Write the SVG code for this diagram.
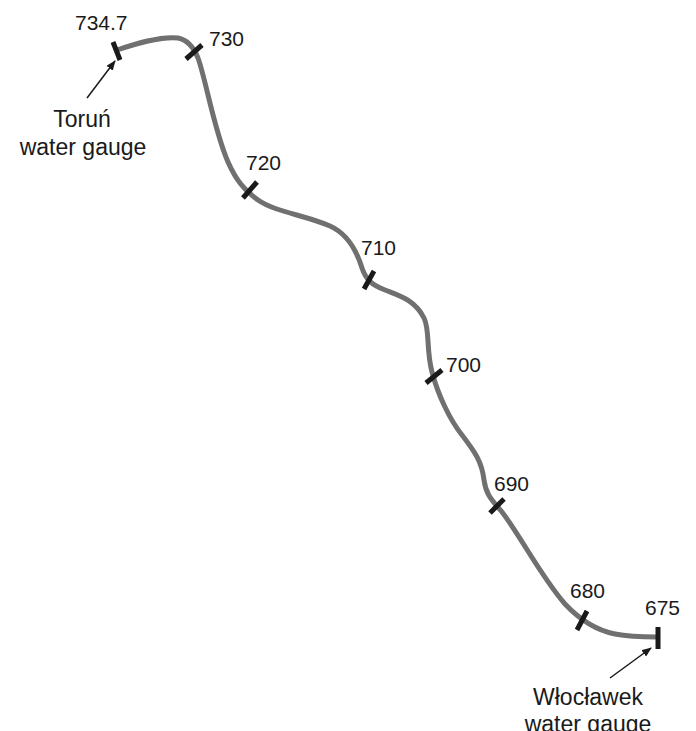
<svg xmlns="http://www.w3.org/2000/svg" width="696" height="731" viewBox="0 0 696 731">
<style>
.river{fill:none;stroke:#707070;stroke-width:5;stroke-linecap:round;stroke-linejoin:round}
.tick{stroke:#1a1a1a;stroke-width:5}
.num{font-family:"Liberation Sans",Arial,sans-serif;font-size:21px;fill:#1a1a1a}
.lbl{font-family:"Liberation Sans",Arial,sans-serif;font-size:23px;fill:#1a1a1a}
.ptr{stroke:#1a1a1a;stroke-width:1.5;fill:none}
</style>
<defs>
<marker id="ah" markerWidth="10" markerHeight="8" refX="9" refY="4" orient="auto" markerUnits="userSpaceOnUse">
<path d="M0,0 L10,4 L0,8 Z" fill="#1a1a1a"/>
</marker>
</defs>
<rect width="696" height="731" fill="#fff"/>
<g id="connectors">
<path class="river" d="M117,50 C135,44 160,36 178,38 C188,40 194,48 198,58 C206,80 214,130 228,162 C236,180 244,190 258,200 C275,212 305,215 330,226 C350,235 358,255 362,268 C366,280 372,285 385,290 C400,296 415,300 424,318 C430,330 426,350 432,372 C438,395 450,420 462,435 C475,452 482,462 484,480 C486,495 492,500 502,512 C520,535 540,575 565,604 C580,620 595,630 615,634 C630,637 645,637 657,637"/>
<line class="ptr" x1="87" y1="98" x2="115" y2="61" marker-end="url(#ah)"/>
<line class="ptr" x1="610" y1="678" x2="651" y2="648" marker-end="url(#ah)"/>
</g>
<g id="km734_7"><line class="tick" x1="113" y1="42" x2="120" y2="60"/><text class="num" x="75" y="30">734.7</text></g>
<g id="km730"><line class="tick" x1="186" y1="59" x2="202" y2="45"/><text class="num" x="209" y="46">730</text></g>
<g id="km720"><line class="tick" x1="243" y1="198" x2="257" y2="182"/><text class="num" x="246" y="170">720</text></g>
<g id="km710"><line class="tick" x1="364" y1="289" x2="374" y2="271"/><text class="num" x="361" y="255">710</text></g>
<g id="km700"><line class="tick" x1="426" y1="383" x2="442" y2="370"/><text class="num" x="446" y="372">700</text></g>
<g id="km690"><line class="tick" x1="490" y1="513" x2="504" y2="499"/><text class="num" x="494" y="491">690</text></g>
<g id="km680"><line class="tick" x1="577" y1="630" x2="587" y2="611"/><text class="num" x="570" y="598">680</text></g>
<g id="km675"><line class="tick" x1="658" y1="627" x2="658" y2="649"/><text class="num" x="645" y="615">675</text></g>
<g id="torun"><text class="lbl" text-anchor="middle" x="82" y="127">Toruń</text><text class="lbl" text-anchor="middle" x="83" y="155">water gauge</text></g>
<g id="wloclawek"><text class="lbl" text-anchor="middle" x="588" y="705">Włocławek</text><text class="lbl" text-anchor="middle" x="588" y="732">water gauge</text></g>
</svg>
